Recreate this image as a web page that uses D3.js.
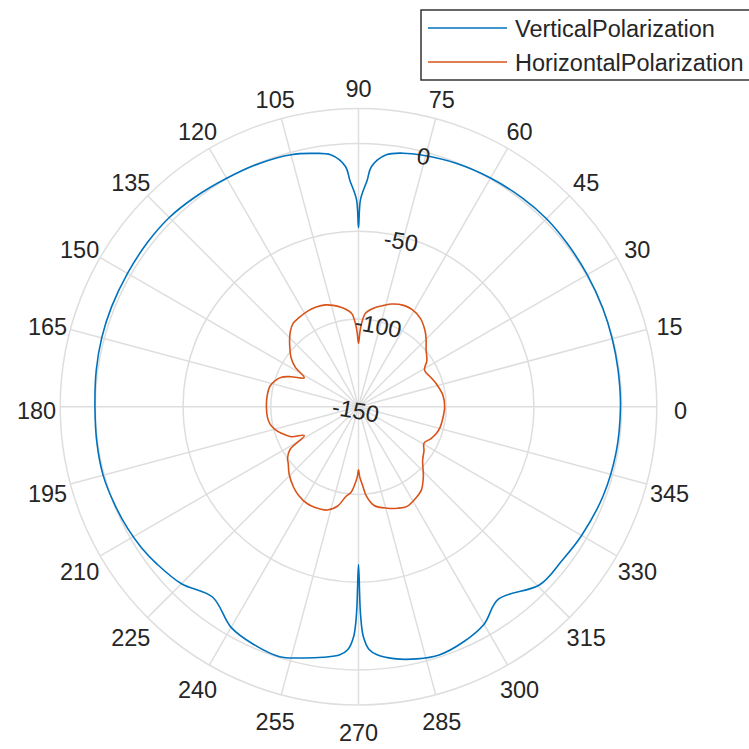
<!DOCTYPE html>
<html>
<head>
<meta charset="utf-8">
<script src="https://cdn.jsdelivr.net/npm/d3@7"></script>
<style>
  html, body { margin: 0; padding: 0; background: #fff; }
  svg { display: block; }
  text { font-family: "Liberation Sans", Arial, sans-serif; fill: #262626; }
</style>
</head>
<body>
<svg id="chart" width="749" height="749"></svg>
<script>
// ---- data (angle in degrees, value in dB) ----
const seriesNames = ["VerticalPolarization", "HorizontalPolarization"];
const seriesColors = ["#0072BD", "#D95319"];

const verticalAngles = [0, 8, 15, 22, 30, 38, 45, 52, 60, 68, 76, 80, 83.7, 86.9, 87.8, 89.45, 90, 90.55, 92.2, 93.1, 96.3, 100, 105, 112, 120, 128, 135, 142, 150, 158, 165, 172, 180, 188, 195, 202, 208, 213, 218, 225, 232.5, 240, 246, 252.5, 257, 262, 265.7, 267.5, 268.8, 269.45, 270, 270.55, 271.2, 272.5, 274.3, 278, 283, 288, 294, 300, 306, 315.5, 323, 330, 340, 350];
const verticalValues = [-0.7, -0.6, -0.3, 0.1, 0.5, 1.0, 1.5, 1.2, 0.5, -0.5, -2.2, -3.3, -5.6, -12.9, -20.8, -32, -48, -32, -20.8, -12.9, -5.6, -3.4, -1.3, -0.3, 0.3, 1.5, 2.5, 2.4, 2.0, 1.8, 1.5, 0.9, 0.2, 0.5, 0.7, -0.3, -1.3, -2.5, -4.3, -7.3, -13.3, -4.8, -2.0, -0.6, -3.0, -5.8, -8.2, -11.5, -19, -32, -60, -32, -19, -11.5, -8.2, -5.0, -2.5, -1.25, -3.2, -6.9, -14.4, -5.2, -4.6, -3.2, -1.6, -0.9];

const horizontalAngles = [0, 8, 16, 22, 29, 34, 40, 45, 49, 55, 61, 66, 72, 76, 80, 84, 86, 88, 89, 90, 91, 92, 94, 96, 100, 104, 108, 113, 118, 124, 128, 132, 136, 140, 144, 148, 152, 156, 159, 163, 167, 173, 180, 187, 191, 195, 199, 204, 208, 212, 216, 219, 224, 231, 236, 242, 247, 253, 258, 262, 265, 267, 269, 270, 271, 273, 275, 279, 286, 291, 296, 302, 307, 313, 320, 326, 331, 336, 341, 346, 352];
const horizontalValues = [-100.9, -101.5, -103.7, -105.5, -107.0, -103.0, -99.7, -95.5, -92.3, -88.5, -86.8, -86.8, -88.5, -90.5, -92.5, -95, -97, -103, -108, -114, -108, -103, -97, -95, -92.5, -90.5, -89, -88.3, -88.3, -89, -89.6, -92, -95.4, -99, -102.5, -107.5, -115, -108, -103, -100, -98.2, -97.6, -97.5, -97.8, -98.6, -100.5, -103.5, -108, -115, -104, -100, -98.5, -95, -91.1, -89, -87.5, -87.5, -88.4, -92, -98.3, -101, -105, -110, -114, -110, -105, -99, -93, -89.8, -88, -86.8, -88.5, -90.5, -95.8, -102.3, -105, -107.3, -105, -103.1, -102, -101.5];

const thetaTicks = d3.range(0, 360, 15);
const rTicks = [-150, -100, -50, 0];
const rLimits = [-150, 20];

// ---- layout ----
const cx = 358.5, cy = 406.7, R = 298.3;
const svg = d3.select("#chart");
const g = svg.append("g").attr("transform", `translate(${cx},${cy})`);

const r = d3.scaleLinear().domain(rLimits).range([0, R]);
const toRad = d => d * Math.PI / 180;
const gridColor = "#dedede";

// spokes
g.selectAll("line.spoke").data(thetaTicks).enter().append("line")
  .attr("x1", 0).attr("y1", 0)
  .attr("x2", d => R * Math.cos(toRad(d)))
  .attr("y2", d => -R * Math.sin(toRad(d)))
  .attr("stroke", gridColor).attr("stroke-width", 1.5);

// rings
g.selectAll("circle.ring").data(rTicks.filter(v => r(v) > 0).concat([rLimits[1]])).enter().append("circle")
  .attr("r", d => r(d)).attr("fill", "none")
  .attr("stroke", gridColor).attr("stroke-width", 1.5);

// series lines
function seriesData(angles, values) { return angles.map((a, i) => [a, values[i]]); }
const line = d3.lineRadial()
  .angle(d => toRad(90 - d[0]))
  .radius(d => r(d[1]))
  .curve(d3.curveCatmullRomClosed.alpha(0.5));

const allSeries = [seriesData(verticalAngles, verticalValues), seriesData(horizontalAngles, horizontalValues)];
g.selectAll("path.series").data(allSeries).enter().append("path")
  .attr("d", d => line(d)).attr("fill", "none")
  .attr("stroke", (d, i) => seriesColors[i]).attr("stroke-width", 1.6)
  .attr("stroke-linejoin", "round");

// theta labels
const labelR = 322;
g.selectAll("text.theta").data(thetaTicks).enter().append("text")
  .attr("x", d => labelR * Math.cos(toRad(d)))
  .attr("y", d => -labelR * Math.sin(toRad(d)) + 4)
  .attr("text-anchor", "middle").attr("dominant-baseline", "central")
  .attr("font-size", 23.5)
  .text(d => d);

// radial tick labels
const rAng = toRad(75);
g.selectAll("text.rtick").data(rTicks).enter().append("text")
  .attr("transform", d => {
    const x = r(d) * Math.cos(rAng) - 3, y = -r(d) * Math.sin(rAng) + 4;
    return `translate(${x},${y}) rotate(10)`;
  })
  .attr("text-anchor", "middle").attr("dominant-baseline", "central")
  .attr("font-size", 23.5)
  .text(d => d);

// legend
const lg = svg.append("g");
lg.append("rect").attr("x", 421).attr("y", 10).attr("width", 340).attr("height", 70)
  .attr("fill", "#fff").attr("stroke", "#262626").attr("stroke-width", 1.4);
seriesNames.forEach((name, i) => {
  const y = 28 + i * 34;
  lg.append("line").attr("x1", 428).attr("x2", 507).attr("y1", y).attr("y2", y)
    .attr("stroke", seriesColors[i]).attr("stroke-width", 1.6);
  lg.append("text").attr("x", 515).attr("y", y + 1).attr("dominant-baseline", "central")
    .attr("font-size", 23.5).text(name);
});
</script>
</body>
</html>
